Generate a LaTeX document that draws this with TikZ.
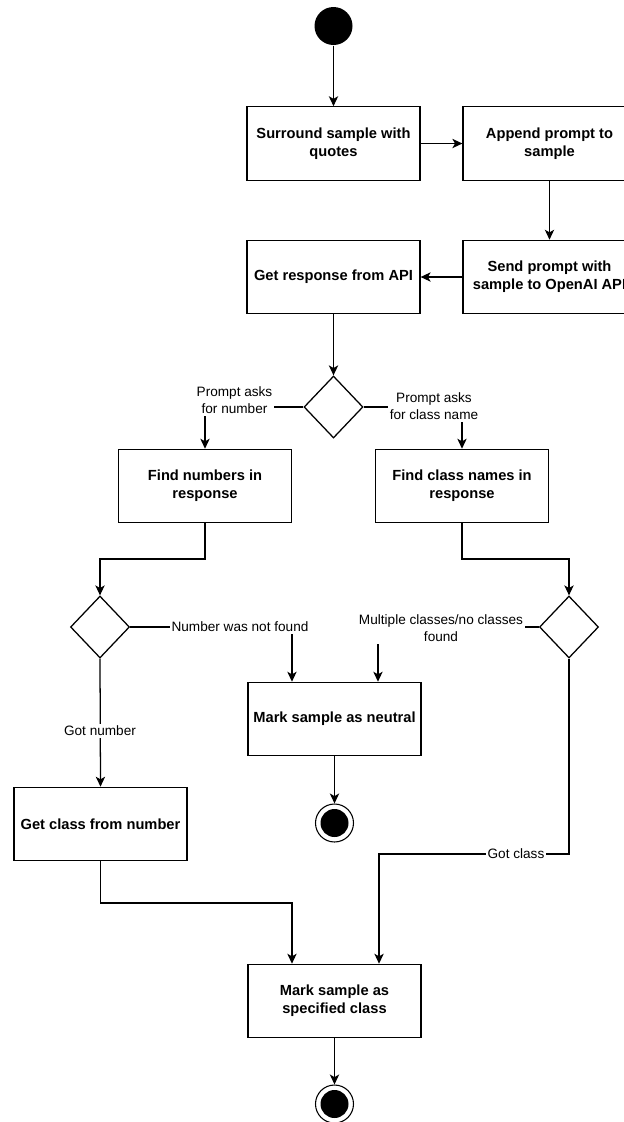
\documentclass[tikz,border=0pt]{standalone}
\usepackage{fontspec}
\setmainfont{Liberation Sans}
\usetikzlibrary{shapes.geometric,arrows.meta}
\begin{document}
\begin{tikzpicture}[x=0.75pt,y=-0.75pt,
  line width=0.95pt,
  actbox/.style={draw,rectangle,minimum width=129.75pt,minimum height=55pt,inner sep=2pt,align=center,
    font=\fontsize{11}{13.7}\selectfont\bfseries},
  choice/.style={draw,diamond,minimum width=44.25pt,minimum height=46.5pt,inner sep=0pt},
  startnode/.style={circle,fill=black,minimum size=28.5pt,inner sep=0pt},
  endnode/.style={circle,draw,line width=0.8pt,minimum size=28.5pt,inner sep=0pt,
    path picture={\fill[black] (path picture bounding box.center) circle (10.5pt);}},
  lbl/.style={fill=white,inner sep=1.5pt,align=center,font=\fontsize{10.2}{12.75}\selectfont},
  flow/.style={-{Stealth[length=7.5pt,width=7pt,inset=2pt]}}
]
\clip (0,0) rectangle (624,1122);
\fill[white] (0,0) rectangle (624,1122);

\node[startnode] (start) at (333.5,26) {};
\node[actbox] (b1) at (333.5,143.5) {Surround sample with\\quotes};
\node[actbox] (b2) at (549.5,143.5) {Append prompt to\\sample};
\node[actbox] (b3) at (549.5,277) {Send prompt with\\sample to OpenAI API};
\node[actbox] (b4) at (333.5,277) {Get response from API};
\node[choice] (d1) at (333.5,407) {};
\node[actbox] (b5) at (205,486) {Find numbers in\\response};
\node[actbox] (b6) at (462,486) {Find class names in\\response};
\node[choice] (d2) at (100,627) {};
\node[choice] (d3) at (569,627) {};
\node[actbox] (neutral) at (334.5,719) {Mark sample as neutral};
\node[endnode] (end1) at (334.5,823) {};
\node[actbox] (b7) at (100.5,824) {Get class from number};
\node[actbox] (b8) at (334.5,1001) {Mark sample as\\specified class};
\node[endnode] (end2) at (334.5,1104) {};

\coordinate (j1) at (100,559);
\coordinate (j2) at (569,559);
\coordinate (j3) at (569,854);
\coordinate (j4) at (100.5,903);

\draw[flow] (start) -- (b1);
\draw[flow] (b1) -- (b2);
\draw[flow] (b2) -- (b3);
\draw[flow] (b3) -- (b4);
\draw[flow] (b4) -- (d1);
\draw[flow] (d1.west) -| (b5.north);
\draw[flow] (d1.east) -| (b6.north);
\draw[flow] (b5.south) |- (j1) -- (d2.north);
\draw[flow] (b6.south) |- (j2) -- (d3.north);
\draw[flow] (d2.east) -| ([xshift=-31.9pt]neutral.north);
\draw[flow] (d3.west) -| ([xshift=32.6pt]neutral.north);
\draw[flow] (neutral) -- (end1);
\draw[flow] (d2.south) -- (b7.north);
\draw[flow] (d3.south) |- (j3) -| ([xshift=33.4pt]b8.north);
\draw[flow] (b7.south) |- (j4) -| ([xshift=-31.9pt]b8.north);
\draw[flow] (b8) -- (end2);

\node[lbl] (l1) at (234.5,400.5) {Prompt asks\\for number};
\node[lbl] (l2) at (434,406.5) {Prompt asks\\for class name};
\node[lbl] (l3) at (240,627) {Number was not found};
\node[lbl] (l4) at (441,628) {Multiple classes/no classes\\found};
\node[lbl] (l5) at (100,731) {Got number};
\node[lbl] (l6) at (516,854) {Got class};
\end{tikzpicture}
\end{document}
